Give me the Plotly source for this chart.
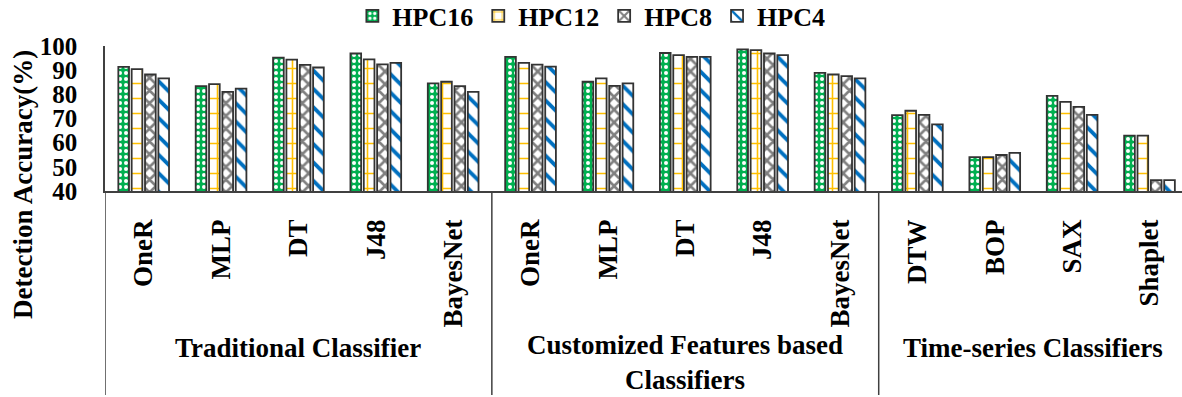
import plotly.graph_objects as go

categories = ["OneR", "MLP", "DT", "J48", "BayesNet",
              "OneR", "MLP", "DT", "J48", "BayesNet",
              "DTW", "BOP", "SAX", "Shaplet"]
groups = ["Traditional Classifier", "Customized Features based<br>Classifiers", "Time-series Classifiers"]
series_names = ["HPC16", "HPC12", "HPC8", "HPC4"]

hpc16 = [91.4, 83.4, 95.2, 96.9, 84.5, 95.5, 85.2, 97.1, 98.6, 88.9, 71.4, 54.0, 79.4, 62.9]
hpc12 = [90.4, 84.2, 94.4, 94.5, 85.2, 93.0, 86.6, 96.2, 98.3, 88.2, 73.2, 54.0, 76.9, 62.9]
hpc8 = [88.2, 81.0, 92.2, 92.4, 83.4, 92.3, 83.5, 95.5, 96.9, 87.5, 71.5, 54.9, 74.8, 44.5]
hpc4 = [86.6, 82.4, 91.1, 93.0, 81.0, 91.5, 84.5, 95.5, 96.2, 86.6, 67.6, 55.8, 71.5, 44.5]

FONT = "Liberation Serif"
x = list(range(len(categories)))

styles = [
    dict(bg="#00B050", fg="#FFFFFF", shape=".", size=6, solidity=0.35),
    dict(bg="#FFFFFF", fg="#FFC000", shape="+", size=15, solidity=0.2),
    dict(bg="#FFFFFF", fg="#808080", shape="x", size=9, solidity=0.5),
    dict(bg="#FFFFFF", fg="#0070C0", shape="\\", size=13, solidity=0.3),
]

fig = go.Figure()
for name, vals, st in zip(series_names, [hpc16, hpc12, hpc8, hpc4], styles):
    fig.add_trace(go.Bar(
        x=x, y=vals, name=name,
        marker=dict(
            color=st["bg"],
            line=dict(color="#333333", width=1.8),
            pattern=dict(shape=st["shape"], fgcolor=st["fg"], bgcolor=st["bg"],
                         size=st["size"], solidity=st["solidity"], fillmode="replace"),
        ),
    ))

plot_h = 397 - 46 - 206

fig.update_layout(
    width=1182, height=397,
    margin=dict(l=105, r=0, t=46, b=206, autoexpand=False),
    paper_bgcolor="white", plot_bgcolor="white",
    barmode="group", bargap=0.31, bargroupgap=0.2,
    font=dict(family=FONT, size=26, color="black", weight="bold"),
    showlegend=True,
    legend=dict(orientation="h", x=0.4516, xanchor="center",
                y=(191 - 16) / plot_h, yanchor="middle", yref="paper",
                font=dict(family=FONT, size=26, weight="bold"),
                itemwidth=30, tracegroupgap=0),
    xaxis=dict(
        tickvals=x, ticktext=categories, tickangle=-90,
        range=[-0.5, 13.42], showline=True, linecolor="#404040", linewidth=1.5,
        ticks="", ticklabelstandoff=16, showgrid=False, zeroline=False,
        tickfont=dict(family=FONT, size=27, weight="bold"),
    ),
    yaxis=dict(
        range=[40, 100], tickvals=[40, 50, 60, 70, 80, 90, 100],
        showline=True, linecolor="#404040", linewidth=1.5, ticks="",
        ticklabelstandoff=21, showgrid=False, zeroline=False,
        tickfont=dict(family=FONT, size=25, weight="bold"),
    ),
)

bottom = -(395 - 191) / plot_h
for bx in [-0.5, 4.5, 9.5]:
    fig.add_shape(type="line", xref="x", yref="paper", x0=bx, x1=bx, y0=0, y1=bottom,
                  line=dict(color="#404040", width=1.5))

group_x = [2, 7, 11.5]
group_y = [-(348 - 191) / plot_h, -(362 - 191) / plot_h, -(348 - 191) / plot_h]
for gx, gy, gt in zip(group_x, group_y, groups):
    fig.add_annotation(x=gx, y=gy, xref="x", yref="paper", text=gt, showarrow=False,
                       xanchor="center", yanchor="middle",
                       font=dict(family=FONT, size=27, weight="bold"))

fig.add_annotation(x=(23 - 105) / 1077, y=(191 - 185) / plot_h, xref="paper", yref="paper",
                   text="Detection Accuracy(%)", textangle=-90, showarrow=False,
                   xanchor="center", yanchor="middle",
                   font=dict(family=FONT, size=27, weight="bold"))

fig.write_html("out.html", config={"displayModeBar": False},
               post_script="document.body.style.margin='0';document.body.style.overflow='hidden';")
